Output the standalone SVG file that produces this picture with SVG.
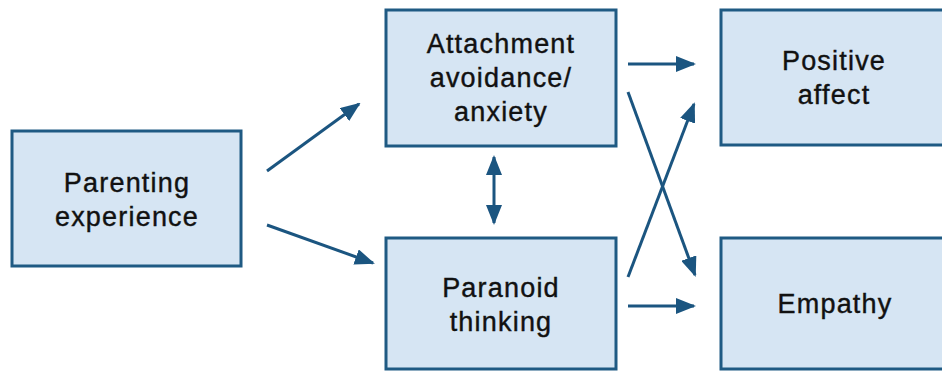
<svg xmlns="http://www.w3.org/2000/svg" width="942" height="371" viewBox="0 0 942 371">
<defs>
<style>
.box{fill:#d6e5f3;stroke:#1f5a83;stroke-width:3}
.lbl{font-family:"Liberation Sans",Arial,sans-serif;font-size:27px;letter-spacing:1.2px;fill:#111;stroke:#111;stroke-width:0.4;text-anchor:middle}
.arr{stroke:#1b5580;stroke-width:3;fill:none;marker-end:url(#ah)}
</style>
<marker id="ah" viewBox="0 0 10 10" refX="9" refY="5" markerUnits="userSpaceOnUse" markerWidth="20" markerHeight="16" orient="auto-start-reverse" preserveAspectRatio="none">
<path d="M0,0 L10,5 L0,10 Z" fill="#1b5580"/>
</marker>
</defs>
<rect width="942" height="371" fill="#fff"/>
<g id="parenting">
<rect class="box" x="12" y="131" width="229" height="135"/>
<text class="lbl" x="127" y="192">Parenting</text>
<text class="lbl" x="127" y="226">experience</text>
</g>
<g id="attachment">
<rect class="box" x="386" y="10" width="230" height="136"/>
<text class="lbl" x="501" y="53">Attachment</text>
<text class="lbl" x="501" y="87">avoidance/</text>
<text class="lbl" x="501" y="121">anxiety</text>
</g>
<g id="paranoid">
<rect class="box" x="386" y="238" width="230" height="131"/>
<text class="lbl" x="501" y="297">Paranoid</text>
<text class="lbl" x="501" y="331">thinking</text>
</g>
<g id="positive">
<rect class="box" x="721" y="10" width="230" height="135"/>
<text class="lbl" x="834" y="70">Positive</text>
<text class="lbl" x="834" y="104">affect</text>
</g>
<g id="empathy">
<rect class="box" x="721" y="238" width="230" height="131"/>
<text class="lbl" x="835" y="313">Empathy</text>
</g>
<g id="connectors">
<line class="arr" x1="267" y1="171" x2="359" y2="104"/>
<line class="arr" x1="267" y1="225" x2="373" y2="263"/>
<line class="arr" x1="494" y1="223" x2="494" y2="157" style="marker-start:url(#ah)"/>
<line class="arr" x1="628" y1="64" x2="694" y2="64"/>
<line class="arr" x1="628" y1="92" x2="695" y2="275"/>
<line class="arr" x1="628" y1="277" x2="694" y2="104"/>
<line class="arr" x1="628" y1="306" x2="694" y2="306"/>
</g>
</svg>
